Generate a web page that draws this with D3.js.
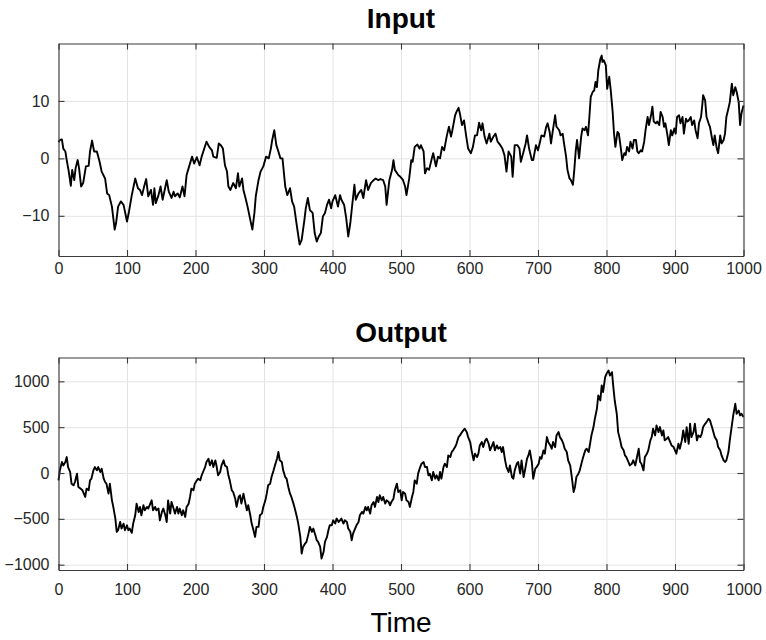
<!DOCTYPE html>
<html><head><meta charset="utf-8">
<script src="https://cdn.jsdelivr.net/npm/d3@7"></script>
<style>
html,body{margin:0;padding:0;background:#fff;}
svg{display:block;font-family:"Liberation Sans",Arial,Helvetica,sans-serif;}
</style></head>
<body>
<svg id="chart" width="766" height="640"></svg>
<script>
// ---- Data ----
const inputT = [0,2,5,7,10,12,15,18,20,23,25,28,30,33,36,40,44,46,49,52,56,60,63,68,71,74,78,82,84,87,91,95,100,103,107,112,116,119,122,125,128,131,135,138,140,142,146,149,152,155,158,161,165,168,170,174,177,181,184,187,190,195,198,202,206,209,212,216,220,224,226,231,234,237,240,243,246,248,251,255,259,262,264,268,270,273,276,280,283,286,288,292,295,299,303,307,310,312,315,318,321,324,327,331,334,338,341,344,348,352,355,359,361,364,367,371,374,377,380,383,386,389,392,395,398,400,404,408,411,413,417,420,423,426,428,432,434,438,442,445,449,452,456,460,463,467,470,474,477,479,483,487,489,491,496,499,501,503,506,508,512,515,517,520,524,527,529,533,535,538,541,545,547,551,554,557,560,563,567,570,573,575,579,581,584,586,589,592,595,598,602,605,608,611,614,617,619,622,625,629,631,635,638,641,645,648,651,654,657,661,663,666,670,673,675,679,682,684,687,691,693,697,700,703,705,709,712,714,717,719,721,725,727,731,733,736,738,741,743,746,748,751,753,755,757,760,763,765,768,770,773,775,777,780,782,784,786,788,791,793,794,796,799,801,804,806,809,811,813,816,818,821,823,826,828,830,833,835,838,840,843,845,847,850,852,855,857,860,862,865,867,869,872,874,877,879,882,884,886,889,891,894,896,899,901,903,906,908,911,913,916,918,920,923,925,928,930,933,935,938,940,941,944,946,949,951,954,956,958,961,963,966,968,971,973,975,978,980,983,985,988,990,993,995,997,1000];
const inputV = [2.8,3.2,3.3,1.7,1.2,-0.3,-2.3,-4.8,-2,-3.8,-1.7,-0.3,-1.7,-4.9,-4.3,-1.4,-1.3,1.2,3.1,1.2,1.2,-0.6,-2.3,-3.5,-6.1,-6.4,-8.4,-12.4,-11.3,-8.4,-7.5,-8.1,-11,-9.2,-6.4,-3.5,-5.2,-5.5,-6.4,-4.9,-3.6,-6.6,-5.5,-8.1,-5.2,-7.8,-6.4,-4.9,-7.2,-5.5,-3.8,-5.8,-6.9,-5.8,-6.6,-6.1,-6.8,-4.9,-6.6,-2.9,-1.7,0.3,-0.9,0.2,-1.2,0.3,1.4,2.9,2,1.4,0.3,0.1,2.6,2.3,1.7,-1.2,-2.3,-4.9,-5.5,-4.3,-5.2,-2.6,-4.9,-3.5,-5.5,-6.9,-8.4,-10.7,-12.4,-9.5,-6.6,-3.8,-2.3,-1.4,0.3,0,1.7,3.2,4.9,2.3,1.2,0,0,-4.9,-6.4,-5.2,-7.5,-8.4,-11.8,-15,-14.2,-10.7,-8.7,-6.9,-9,-9.5,-13,-14.5,-13.6,-13,-10.1,-9.5,-8.1,-7.2,-8.7,-7.5,-6.4,-8.4,-6.4,-7.2,-8.1,-10.4,-13.6,-11.3,-9,-4.6,-7.2,-6.1,-5.5,-6.9,-3.8,-5.5,-4.3,-3.8,-3.5,-3.8,-3.6,-3.8,-4.9,-8.1,-3.8,-2,-0.3,-2,-2.9,-3.2,-3.5,-3.8,-4.9,-6.4,-3.5,-0.3,-0.6,2,2.4,1.7,2.3,1.2,-2.6,-1.7,-2,0,0.9,-1.4,0.3,0,2,1.4,4,5.5,3.8,4.9,7.5,8.1,8.8,7.8,5.8,6.6,4,1.7,0.9,2,4,4,6.2,4.9,6.1,3.8,2.6,4.3,2.9,3.8,4.3,2.9,2.3,1.7,0.6,-2.3,1.2,0.3,-3.2,2.3,2.3,1.7,-0.6,1.2,2.6,4,1.7,-0.3,-0.3,2.3,1.4,2.9,4,3.8,5.5,6.1,4.6,2.6,4.3,7.5,5.5,4.9,4,4.3,2.6,0.3,-2,-3.5,-3.8,-4.6,-2,1.2,3.2,0,3.8,5.2,4.9,5.5,4,7.2,10.7,11.6,11.8,13.3,12.4,15.3,17.3,17.9,16.8,17.1,16.2,12.1,14.2,12.1,8.1,4.3,2,4.6,4.3,1.7,-0.3,0.9,0.6,2,1.2,2.9,1.7,3.2,3.2,1.2,0.9,1.4,1.2,2.9,4.9,7.2,5.8,7.5,9,6.4,6.1,6.4,5.8,8.1,7.2,5.5,6.1,4,2.3,4.9,4,5.2,4.3,7.2,7.5,6.1,7.2,4.3,6.9,6.4,6.6,7.2,5.8,6.6,4.9,3.5,6.1,7.2,9.5,11,10.1,7.2,6.1,5.5,3.5,2.3,4,1.7,0.9,4,2.6,3.2,4.3,7.2,8.7,9.8,13,11,12.4,11.6,9.8,5.8,7.8,9.2];

const outputT = [0,2,5,7,10,12,14,17,19,22,24,27,29,32,35,39,41,44,46,48,51,53,56,58,61,63,66,68,70,73,75,78,80,83,85,87,90,92,95,97,100,102,104,107,109,112,114,117,119,121,124,126,129,131,134,136,138,141,143,146,148,151,153,156,158,160,163,165,168,170,173,175,177,180,182,185,187,190,192,194,197,199,202,204,207,209,211,214,216,219,221,224,226,229,231,233,236,238,241,243,246,248,250,253,255,258,260,263,265,267,270,272,275,277,280,282,284,287,289,292,294,297,299,302,304,306,309,311,314,316,319,321,323,326,328,331,333,336,338,340,343,345,348,350,353,355,357,360,362,365,367,370,372,375,377,379,382,384,387,389,392,394,396,399,401,404,406,409,411,413,416,418,421,423,426,428,430,433,435,438,440,443,445,448,450,452,455,457,460,462,465,467,469,472,474,477,479,482,484,486,489,491,494,496,499,501,503,506,508,511,513,516,518,520,523,525,528,530,533,535,538,540,542,545,547,550,552,555,557,559,562,564,567,569,572,574,576,579,581,584,586,589,591,593,596,598,601,603,606,608,611,613,615,618,620,623,625,628,630,632,635,637,640,642,645,647,649,652,654,657,659,662,664,666,669,671,674,676,679,681,684,686,688,691,693,696,698,701,703,705,708,710,713,715,718,720,722,725,727,730,732,735,737,739,742,744,747,749,752,754,756,759,761,764,766,769,771,774,776,778,781,783,786,788,791,793,795,798,800,803,805,808,810,812,815,817,820,822,825,827,829,832,834,837,839,842,844,847,849,851,854,856,859,861,864,866,868,871,873,876,878,881,883,885,888,890,893,895,898,900,902,905,907,910,912,915,917,920,922,924,927,929,932,934,937,939,941,944,946,949,951,954,956,958,961,963,966,968,971,973,975,978,980,983,985,988,990,993,995,997,1000];
const outputV = [-80,29,120,83,120,174,65,11,-116,-134,-98,-7,-152,-170,-189,-261,-170,-189,-80,-62,29,65,29,65,11,47,-62,-98,-116,-225,-116,-298,-370,-497,-642,-624,-534,-606,-552,-624,-570,-624,-606,-653,-552,-461,-334,-425,-370,-461,-352,-407,-370,-388,-334,-298,-407,-370,-407,-388,-516,-425,-388,-461,-534,-298,-443,-316,-388,-443,-370,-443,-388,-461,-407,-479,-370,-334,-261,-170,-189,-116,-80,-62,-80,-25,11,65,120,156,83,138,65,138,65,-25,11,83,138,83,65,-25,-80,-189,-207,-280,-370,-261,-243,-334,-225,-298,-407,-352,-461,-552,-606,-697,-588,-588,-461,-443,-370,-298,-225,-134,-116,-44,29,83,156,229,138,120,29,-44,-62,-170,-225,-261,-334,-388,-479,-552,-697,-878,-806,-770,-751,-661,-588,-642,-606,-679,-733,-751,-806,-933,-860,-751,-697,-624,-570,-570,-516,-552,-497,-534,-516,-497,-552,-516,-534,-606,-642,-733,-661,-606,-570,-534,-461,-425,-443,-370,-407,-370,-443,-352,-316,-370,-261,-316,-243,-298,-261,-334,-298,-316,-352,-316,-280,-189,-116,-207,-189,-298,-207,-225,-298,-316,-370,-261,-207,-80,-116,-7,65,102,120,65,65,-25,-7,-80,11,-62,-25,-80,11,-62,65,102,65,192,174,229,247,283,319,392,410,446,465,483,446,392,338,247,138,211,174,211,301,338,283,356,374,319,247,283,338,247,301,265,283,229,283,138,65,11,83,-44,-62,29,102,120,-7,138,-44,29,156,192,247,120,-62,47,65,102,174,156,247,211,392,338,301,265,338,283,410,446,392,356,319,265,229,138,83,-25,-207,-152,-44,-7,29,120,174,247,265,229,319,410,501,592,701,846,791,955,882,1045,1082,1118,1064,1100,937,791,646,446,356,283,247,192,174,120,83,102,138,83,156,265,120,102,29,174,211,247,356,392,483,410,519,446,501,410,465,356,374,392,338,301,283,247,211,319,265,356,465,338,501,319,537,392,446,537,356,410,392,428,501,537,555,592,574,501,446,392,356,283,247,192,138,120,138,229,356,519,628,755,646,682,628,646,610];

const xTicks = [0,100,200,300,400,500,600,700,800,900,1000];
const inputTicks = [-10,0,10];
const outputTicks = [-1000,-500,0,500,1000];
const titles = ["Input","Output"];
const xLabel = "Time";

// ---- Layout ----
const svg = d3.select("#chart");
const L = 58.5, R = 743.5;
const x = d3.scaleLinear().domain([0,1000]).range([L,R]);

const panels = [
  {title:titles[0], t:inputT, v:inputV, ticks:inputTicks, domain:[-17,20], top:43.5, bottom:256, titleY:27.5, labGap:7},
  {title:titles[1], t:outputT, v:outputV, ticks:outputTicks, domain:[-1058,1260], top:357.5, bottom:570, titleY:342, labGap:14}
];

const axisColor = "#3a3a3a";
const textColor = "#262626";

panels.forEach(p => {
  const y = d3.scaleLinear().domain(p.domain).range([p.bottom,p.top]);
  const h = p.bottom - p.top, w = R - L;
  const g = svg.append("g");

  // grid
  g.append("g").attr("transform",`translate(0,${p.bottom})`)
    .call(d3.axisBottom(x).tickValues(xTicks).tickSize(-h).tickFormat(""))
    .call(s=>{s.select(".domain").remove(); s.selectAll("line").attr("stroke","#e3e3e3").attr("stroke-width",1);});
  g.append("g").attr("transform",`translate(${L},0)`)
    .call(d3.axisLeft(y).tickValues(p.ticks).tickSize(-w).tickFormat(""))
    .call(s=>{s.select(".domain").remove(); s.selectAll("line").attr("stroke","#e3e3e3").attr("stroke-width",1);});

  // line
  const pts = p.t.map((t,i)=>[t,p.v[i]]);
  g.append("path").datum(pts)
    .attr("fill","none").attr("stroke","#000").attr("stroke-width",1.9)
    .attr("stroke-linejoin","round")
    .attr("d", d3.line().x(d=>x(d[0])).y(d=>y(d[1])));

  // axes (inward ticks, box)
  const styleAxis = s => {
    s.select(".domain").attr("stroke",axisColor).attr("stroke-width",1.1);
    s.selectAll(".tick line").attr("stroke",axisColor).attr("stroke-width",1.1);
    s.selectAll("text").attr("fill",textColor).style("font-size","16px")
      .style("font-family",'"Liberation Sans",Arial,Helvetica,sans-serif');
  };
  g.append("g").attr("transform",`translate(0,${p.bottom})`)
    .call(d3.axisBottom(x).tickValues(xTicks).tickSize(-6).tickSizeOuter(0).tickPadding(p.labGap).tickFormat(d3.format("d")))
    .call(styleAxis);
  g.append("g").attr("transform",`translate(0,${p.top})`)
    .call(d3.axisTop(x).tickValues(xTicks).tickSize(-6).tickSizeOuter(0).tickFormat(""))
    .call(styleAxis);
  g.append("g").attr("transform",`translate(${L},0)`)
    .call(d3.axisLeft(y).tickValues(p.ticks).tickSize(-6).tickSizeOuter(0).tickPadding(9).tickFormat(d3.format("d")))
    .call(styleAxis);
  g.append("g").attr("transform",`translate(${R},0)`)
    .call(d3.axisRight(y).tickValues(p.ticks).tickSize(-6).tickSizeOuter(0).tickFormat(""))
    .call(styleAxis);

  // title
  svg.append("text").attr("x",(L+R)/2).attr("y",p.titleY)
    .attr("text-anchor","middle").attr("fill","#000")
    .style("font-size","28px").style("font-weight","bold")
    .text(p.title);
});

svg.append("text").attr("x",(L+R)/2).attr("y",631.5)
  .attr("text-anchor","middle").attr("fill","#000")
  .style("font-size","28px")
  .text(xLabel);
</script>
</body></html>
